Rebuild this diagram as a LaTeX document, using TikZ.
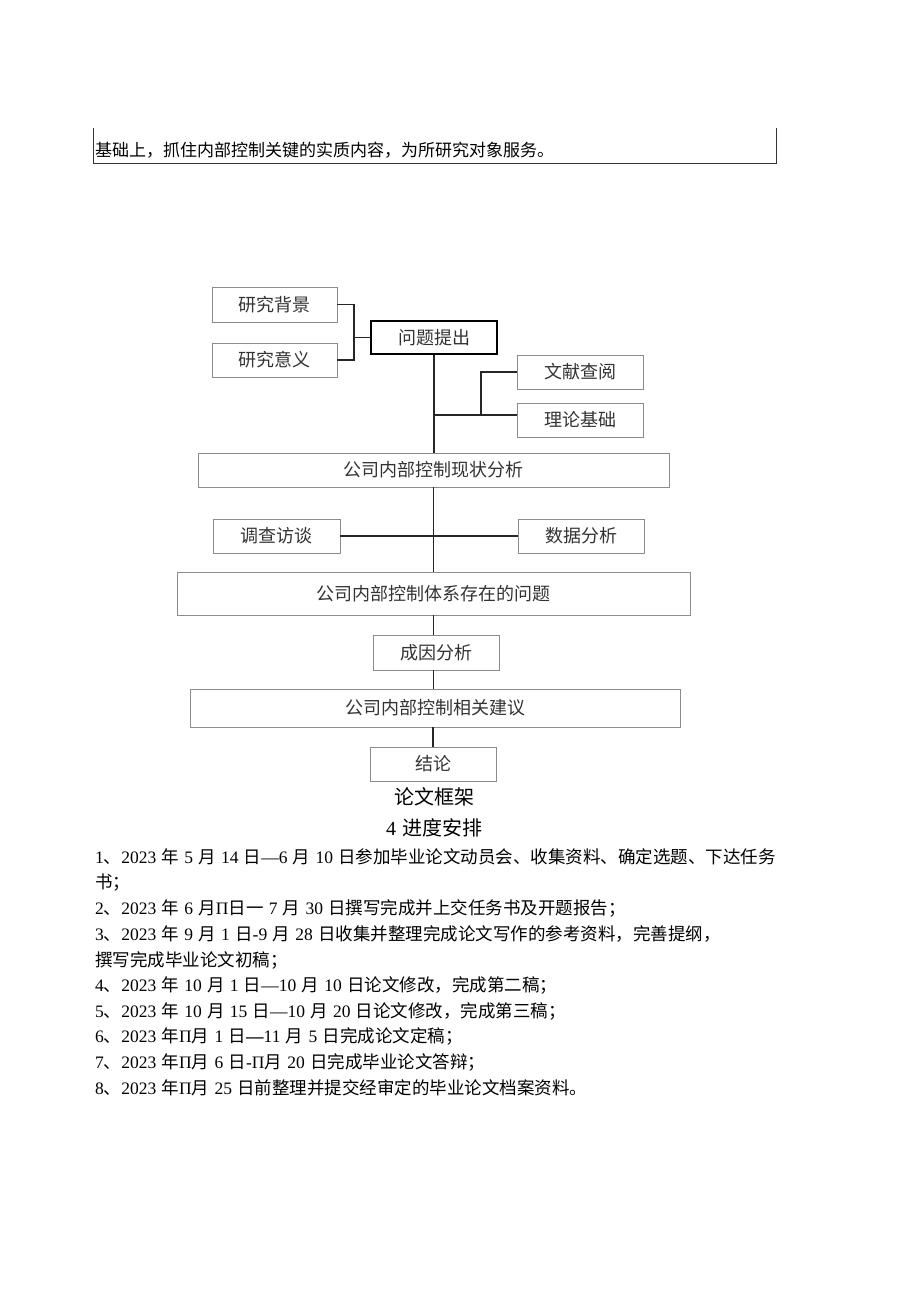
\documentclass[tikz,border=0pt]{standalone}
\usepackage{fontspec}
\setmainfont{Noto Sans CJK SC}
\newfontfamily\numfont{Liberation Serif}
\newcommand\nm[1]{{\numfont #1}}
\newcommand\gp{\hspace{0.3em}}
\definecolor{boxline}{HTML}{8C8C8C}
\definecolor{boxtext}{HTML}{333333}
\tikzset{
  fbox/.style={draw=boxline, line width=0.9pt, inner sep=0pt, text=boxtext, font=\fontsize{18}{18}\selectfont},
  conn/.style={draw=black!85, line width=1.3pt},
  topline/.style={anchor=west, inner sep=0pt, font=\fontsize{17}{17}\selectfont},
  listline/.style={anchor=west, inner sep=0pt, font=\fontsize{17.5}{17.5}\selectfont},
}
\begin{document}
\begin{tikzpicture}[x=1pt,y=-1pt]
\path[use as bounding box, fill=white] (0,0) rectangle (920,1301);
% top fragment of table
\coordinate (tl) at (93,128);
\coordinate (tr) at (776,128);
\coordinate (bl) at (93,163);
\coordinate (br) at (776,163);
\draw[line width=0.9pt, black!80] (tl) -- (bl) -- (br) -- (tr);
\node[topline] (top) at (95,150) {基础上，抓住内部控制关键的实质内容，为所研究对象服务。};
% flowchart boxes
\node[fbox, minimum width=125pt, minimum height=35pt] (bg) at (274.5,304.5) {研究背景};
\node[fbox, minimum width=125pt, minimum height=34pt] (yy) at (274.5,360) {研究意义};
\node[fbox, draw=black, line width=1.2pt, minimum width=126pt, minimum height=33pt] (wt) at (434,337.5) {问题提出};
\node[fbox, minimum width=126pt, minimum height=34pt] (wx) at (580,372) {文献查阅};
\node[fbox, minimum width=126pt, minimum height=34pt] (ll) at (580,420) {理论基础};
\node[fbox, minimum width=471pt, minimum height=34pt] (xz) at (433.5,470) {公司内部控制现状分析};
\node[fbox, minimum width=127pt, minimum height=34pt] (dc) at (276.5,536) {调查访谈};
\node[fbox, minimum width=126pt, minimum height=34pt] (sj) at (581,536) {数据分析};
\node[fbox, minimum width=513pt, minimum height=43pt] (wtx) at (433.5,593.5) {公司内部控制体系存在的问题};
\node[fbox, minimum width=126pt, minimum height=35pt] (cy) at (436,652.5) {成因分析};
\node[fbox, minimum width=490pt, minimum height=38pt] (jy) at (435,708) {公司内部控制相关建议};
\node[fbox, minimum width=126pt, minimum height=34pt] (jl) at (433,764) {结论};
% connectors
\coordinate (j1) at (354,337.5);
\draw[conn] (bg.east) -| (j1) |- (yy.east);
\draw[conn] (j1) -- (wt.west);
\draw[conn] (wt.south) -- (wt.south |- xz.north);
\coordinate (j2) at (434,415);
\coordinate (j3) at (481,415);
\draw[conn] (j2) -- (j2 -| ll.west);
\draw[conn] (j3) |- (wx.west);
\draw[conn] (433.5,487) coordinate (m1) -- (433.5,572) coordinate (m2);
\draw[conn] (dc.east) -- (dc.east -| m1);
\draw[conn] (sj.west) -- (sj.west -| m1);
\draw[conn] (wtx.south) -- (wtx.south |- cy.north);
\draw[conn] (cy.south -| wtx.south) -- (wtx.south |- jy.north);
\draw[conn] (jy.south -| jl.north) -- (jl.north);
% captions
\node[inner sep=0pt, font=\fontsize{20}{20}\selectfont] (cap) at (434,797) {论文框架};
\node[inner sep=0pt, font=\fontsize{20}{20}\selectfont] (sec) at (434,828) {\nm{4}\gp{}进度安排};
% schedule list
\node[listline] (l1) at (95,857) {\nm{1}、\nm{2023}\gp{}年\gp{}\nm{5}\gp{}月\gp{}\nm{14}\gp{}日\nm{—}\nm{6}\gp{}月\gp{}\nm{10}\gp{}日参加毕业论文动员会、收集资料、确定选题、下达任务};
\node[listline] (l1b) at (95,883) {书；};
\node[listline] (l2) at (95,908.5) {\nm{2}、\nm{2023}\gp{}年\gp{}\nm{6}\gp{}月\nm{Π}日一\gp{}\nm{7}\gp{}月\gp{}\nm{30}\gp{}日撰写完成并上交任务书及开题报告；};
\node[listline] (l3) at (95,934) {\nm{3}、\nm{2023}\gp{}年\gp{}\nm{9}\gp{}月\gp{}\nm{1}\gp{}日\nm{-9}\gp{}月\gp{}\nm{28}\gp{}日收集并整理完成论文写作的参考资料，完善提纲，};
\node[listline] (l3b) at (95,960) {撰写完成毕业论文初稿；};
\node[listline] (l4) at (95,985.5) {\nm{4}、\nm{2023}\gp{}年\gp{}\nm{10}\gp{}月\gp{}\nm{1}\gp{}日\nm{—10}\gp{}月\gp{}\nm{10}\gp{}日论文修改，完成第二稿；};
\node[listline] (l5) at (95,1011) {\nm{5}、\nm{2023}\gp{}年\gp{}\nm{10}\gp{}月\gp{}\nm{15}\gp{}日\nm{—10}\gp{}月\gp{}\nm{20}\gp{}日论文修改，完成第三稿；};
\node[listline] (l6) at (95,1036.5) {\nm{6}、\nm{2023}\gp{}年\nm{Π}月\gp{}\nm{1}\gp{}日\nm{\textbf{—}11}\gp{}月\gp{}\nm{5}\gp{}日完成论文定稿；};
\node[listline] (l7) at (95,1062) {\nm{7}、\nm{2023}\gp{}年\nm{Π}月\gp{}\nm{6}\gp{}日\nm{-Π}月\gp{}\nm{20}\gp{}日完成毕业论文答辩；};
\node[listline] (l8) at (95,1087.5) {\nm{8}、\nm{2023}\gp{}年\nm{Π}月\gp{}\nm{25}\gp{}日前整理并提交经审定的毕业论文档案资料。};
\end{tikzpicture}
\end{document}
